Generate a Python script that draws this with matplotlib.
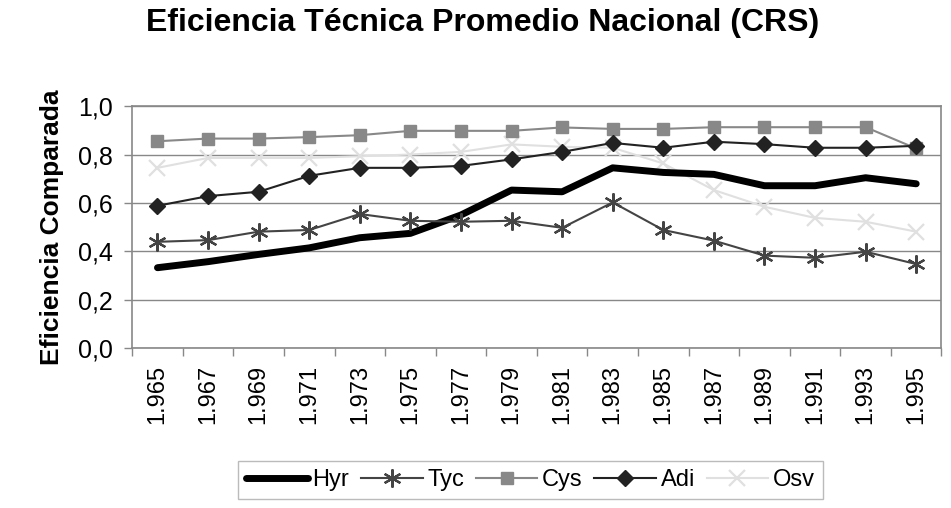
import numpy as np
import matplotlib
matplotlib.use('Agg')
import matplotlib.pyplot as plt
from matplotlib.ticker import FixedLocator, FuncFormatter

plt.rcParams['font.family'] = ['Liberation Sans', 'DejaVu Sans']

years = ['1.965', '1.967', '1.969', '1.971', '1.973', '1.975', '1.977', '1.979',
         '1.981', '1.983', '1.985', '1.987', '1.989', '1.991', '1.993', '1.995']

hyr = [0.332, 0.357, 0.387, 0.414, 0.456, 0.474, 0.550, 0.653,
       0.646, 0.745, 0.726, 0.718, 0.671, 0.671, 0.704, 0.679]
tyc = [0.439, 0.446, 0.481, 0.488, 0.554, 0.526, 0.522, 0.526,
       0.497, 0.602, 0.488, 0.444, 0.382, 0.373, 0.398, 0.347]
cys = [0.855, 0.866, 0.866, 0.872, 0.880, 0.898, 0.898, 0.898,
       0.912, 0.906, 0.906, 0.913, 0.913, 0.913, 0.913, 0.825]
adi = [0.588, 0.628, 0.646, 0.712, 0.745, 0.745, 0.753, 0.780,
       0.811, 0.848, 0.828, 0.853, 0.843, 0.828, 0.828, 0.836]
osv = [0.745, 0.786, 0.786, 0.786, 0.793, 0.800, 0.811, 0.842,
       0.832, 0.828, 0.763, 0.653, 0.584, 0.538, 0.522, 0.481]

fig = plt.figure(figsize=(9.51, 5.08), dpi=100)
ax = fig.add_axes([0.139, 0.315, 0.851, 0.476])

x = np.arange(len(years))
ax.plot(x, hyr, color='black', lw=5, label='Hyr', zorder=3, solid_capstyle='round')
ax.plot(x, tyc, color='#444444', lw=1.5, marker=(6, 2, 0), ms=13, mew=1.6,
        label='Tyc', zorder=4)
ax.plot(x, cys, color='#888888', lw=1.5, marker='s', ms=9, label='Cys', zorder=2)
ax.plot(x, adi, color='#222222', lw=1.5, marker='D', ms=8, label='Adi', zorder=3)
ax.plot(x, osv, color='#e0e0e0', lw=1.5, marker='x', ms=12, mew=1.6,
        label='Osv', zorder=1)

ax.set_xlim(-0.5, len(years) - 0.5)
ax.set_ylim(0, 1.0)
ax.set_yticks(np.arange(0, 1.01, 0.2))
ax.yaxis.set_major_formatter(FuncFormatter(lambda v, p: '{:.1f}'.format(v).replace('.', ',')))
ax.yaxis.grid(True, color='#888888', lw=1)
ax.set_axisbelow(True)

ax.set_xticks(x)
ax.set_xticklabels(years, rotation=90)
ax.xaxis.set_minor_locator(FixedLocator(np.arange(-0.5, len(years), 1)))
ax.tick_params(axis='x', which='major', length=0, pad=12, labelsize=17)
ax.tick_params(axis='x', which='minor', length=6, color='#888888', width=1)
ax.tick_params(axis='y', length=6, color='#888888', width=1, labelsize=18, pad=8)

for s in ax.spines.values():
    s.set_color('#888888')
    s.set_linewidth(1.2)

ax.set_ylabel('Eficiencia Comparada', fontsize=19, fontweight='bold', labelpad=10)
fig.suptitle('Eficiencia Técnica Promedio Nacional (CRS)', fontsize=23,
             fontweight='bold', x=0.507, y=0.985)

leg = fig.legend(loc='center', bbox_to_anchor=(0.558, 0.055), ncol=5, fontsize=17,
                 frameon=True, fancybox=False, handlelength=2.6, handletextpad=0.2,
                 columnspacing=0.5, borderpad=0.35)
leg.get_frame().set_edgecolor('#aaaaaa')
leg.get_frame().set_linewidth(1)

fig.savefig('out.png', dpi=100)
